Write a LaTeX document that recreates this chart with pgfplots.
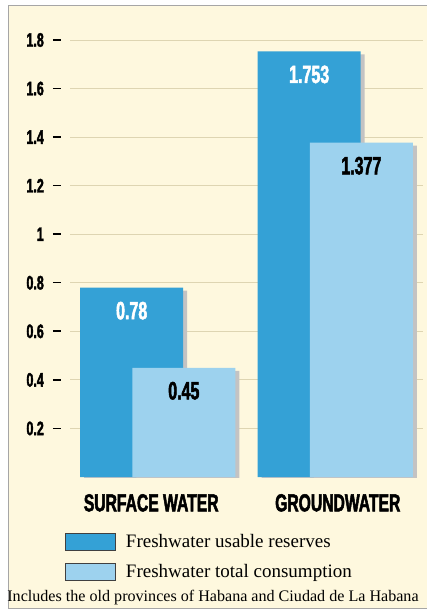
\documentclass[border=0pt]{standalone}
\usepackage{pgfplots}
\pgfplotsset{compat=1.18}
\usepackage{fontspec}
\setmainfont{Liberation Serif}
\newfontfamily\condfont[FakeStretch=0.64, FakeBold=2]{Liberation Sans}

\definecolor{cream}{RGB}{254,248,222}
\definecolor{gridtan}{RGB}{222,213,178}
\definecolor{darkblue}{RGB}{52,161,214}
\definecolor{lightblue}{RGB}{157,210,238}
\definecolor{shadow}{RGB}{195,195,195}

\begin{document}
\begin{tikzpicture}[x=1pt,y=1pt]
% panel
\path[use as bounding box] (0,0) rectangle (427,611);
\fill[white] (0,0) rectangle (427,611);
\fill[cream] (8,3) rectangle (427,606);
\draw[black!35, line width=0.8pt] (427,606) -- (8,606) -- (8,3) -- (427,3);

\begin{axis}[
    at={(70pt,134pt)}, anchor=south west,
    scale only axis,
    width=353pt, height=437pt,
    xmin=-0.3475, xmax=1.6412,
    ymin=0, ymax=1.8,
    axis line style={draw=none},
    major tick length=0pt,
    ytick={0.2,0.4,0.6,0.8,1,1.2,1.4,1.6,1.8},
    yticklabel={\condfont\bfseries\fontsize{19.5}{19.5}\selectfont\pgfmathprintnumber[assume math mode=true]{\tick}\hspace{9pt}\rule[6pt]{8pt}{1.6pt}},
    yticklabel style={anchor=east, inner sep=0pt, xshift=-9pt},
    ymajorgrids,
    grid style={gridtan, line width=0.9pt},
    xtick={0.11,1.161},
    xticklabels={SURFACE WATER, GROUNDWATER},
    xticklabel style={font=\condfont\bfseries\fontsize{24.5}{24.5}\selectfont, anchor=north, inner sep=0pt, yshift=-17pt},
    legend style={at={(-0.0142,-0.128)}, anchor=north west, draw=none, fill=none,
        inner sep=0pt, font=\fontsize{19}{19}\selectfont, row sep=12pt,
        nodes={inner sep=0pt}},
    legend cell align=left,
    nodes near coords={\condfont\bfseries\fontsize{25}{25}\selectfont\pgfmathprintnumber[assume math mode=true,precision=3]{\pgfplotspointmeta}},
    every node near coord/.append style={anchor=center, yshift=-23pt},
]
% shadows and bars: usable reserves
\addplot[ybar, bar width=103pt, bar shift=4pt, yshift=-3pt, fill=shadow, draw=none, nodes near coords={}, forget plot]
    coordinates {(0,0.78) (1,1.753)};
\addplot[ybar, bar width=103pt, bar shift=0pt, fill=darkblue, draw=none,
    every node near coord/.append style={text=white},
    legend image code/.code={\draw[fill=darkblue, draw=black!75, line width=0.8pt] (0pt,-8.5pt) rectangle (50pt,8.5pt);}]
    coordinates {(0,0.78) (1,1.753)};
\addlegendentry{\hspace{10pt}Freshwater usable reserves}
% shadows and bars: total consumption
\addplot[ybar, bar width=103pt, bar shift=4pt, yshift=-3pt, fill=shadow, draw=none, nodes near coords={}, forget plot]
    coordinates {(0.2938,0.45) (1.2938,1.377)};
\addplot[ybar, bar width=103pt, bar shift=0pt, fill=lightblue, draw=none,
    every node near coord/.append style={text=black},
    legend image code/.code={\draw[fill=lightblue, draw=black!75, line width=0.8pt] (0pt,-8.5pt) rectangle (50pt,8.5pt);}]
    coordinates {(0.2938,0.45) (1.2938,1.377)};
\addlegendentry{\hspace{10pt}Freshwater total consumption}
\end{axis}

\node[font=\fontsize{16.1}{16.1}\selectfont, inner sep=0pt] at (213,13.5) {Includes the old provinces of Habana and Ciudad de La Habana};
\end{tikzpicture}
\end{document}
